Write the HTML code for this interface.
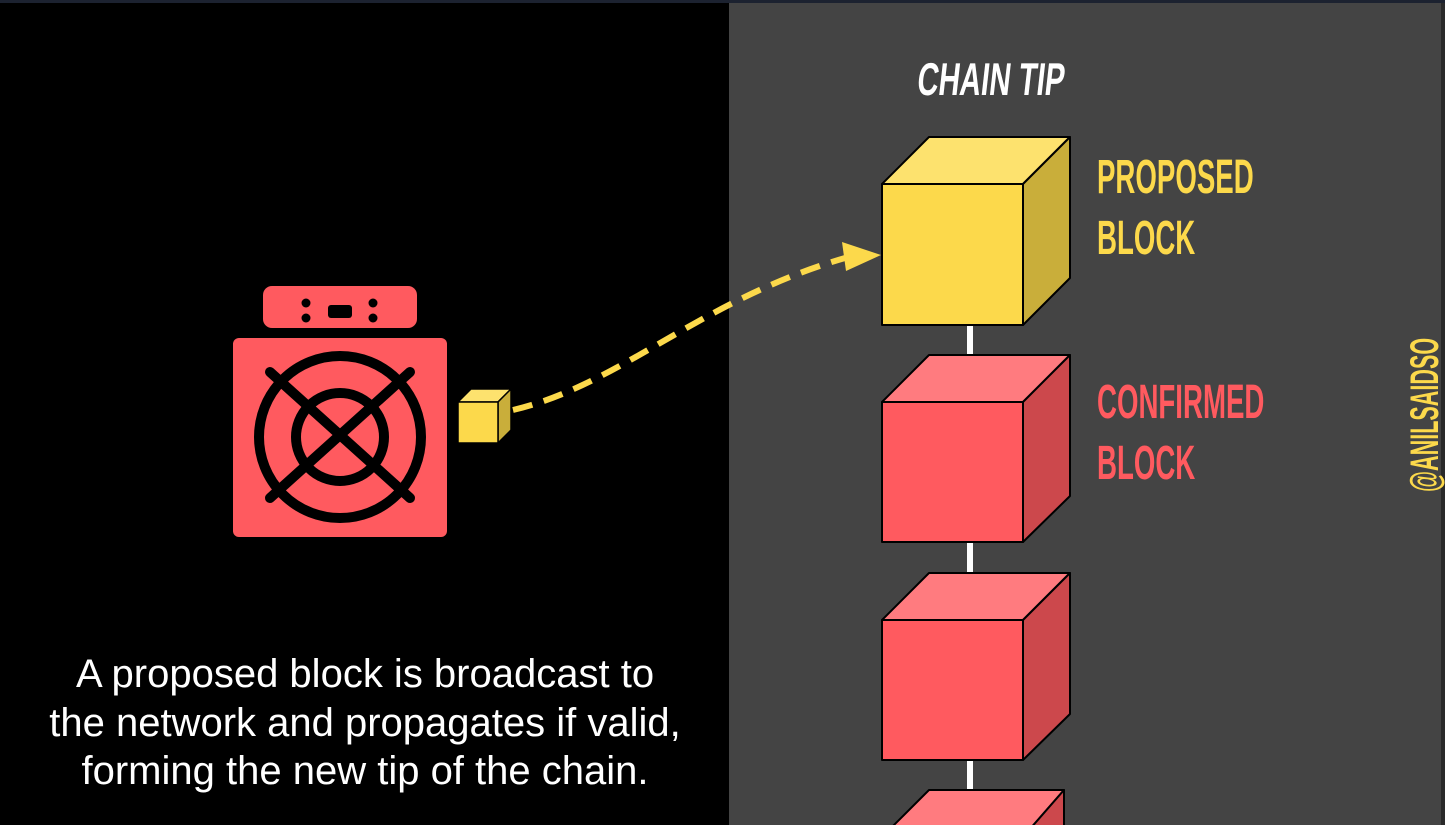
<!DOCTYPE html>
<html><head><style>
html,body{margin:0;padding:0;background:#000;width:1445px;height:825px;overflow:hidden}
svg{display:block}
.c{font-family:"Liberation Sans",sans-serif;font-weight:bold}
</style></head><body>
<svg width="1445" height="825" xmlns="http://www.w3.org/2000/svg">
<rect width="1445" height="825" fill="#000"/>
<rect x="0" y="0" width="1445" height="3" fill="#1c2230"/>
<rect x="729" y="3" width="712" height="822" fill="#444444"/>
<rect x="1441" y="3" width="4" height="822" fill="#2a2a2a"/>

<text class="c" transform="translate(916,95) scale(0.64,1) skewX(-10)" font-size="46" fill="#fff">CHAIN TIP</text>

<g stroke="#fff" stroke-width="6">
<line x1="970" y1="325" x2="970" y2="356"/>
<line x1="970" y1="542" x2="970" y2="574"/>
<line x1="970" y1="760" x2="970" y2="792"/>
</g>

<g stroke="#000" stroke-width="2" stroke-linejoin="round">
<polygon points="882,184 929,137 1070,137 1023,184" fill="#FDE26E"/>
<polygon points="1023,184 1070,137 1070,278 1023,325" fill="#C9AE3A"/>
<rect x="882" y="184" width="141" height="141" fill="#FCD94B"/>
</g>
<g stroke="#000" stroke-width="2" stroke-linejoin="round">
<polygon points="882,402 929,355 1070,355 1023,402" fill="#FF7B7F"/>
<polygon points="1023,402 1070,355 1070,496 1023,542" fill="#CC484C"/>
<rect x="882" y="402" width="141" height="140" fill="#FF5A5F"/>
</g>
<g stroke="#000" stroke-width="2" stroke-linejoin="round">
<polygon points="882,620 929,573 1070,573 1023,620" fill="#FF7B7F"/>
<polygon points="1023,620 1070,573 1070,714 1023,760" fill="#CC484C"/>
<rect x="882" y="620" width="141" height="140" fill="#FF5A5F"/>
</g>
<g stroke="#000" stroke-width="2" stroke-linejoin="round">
<polygon points="882,837 929,790 1064,790 1023,837" fill="#FF7B7F"/>
<polygon points="1023,837 1064,790 1064,830 1023,837" fill="#CC484C"/>
</g>

<text class="c" transform="translate(1097,193) scale(0.576,1)" font-size="48" fill="#FCD94B">PROPOSED</text>
<text class="c" transform="translate(1097,254) scale(0.576,1)" font-size="48" fill="#FCD94B">BLOCK</text>
<text class="c" transform="translate(1097,418) scale(0.576,1)" font-size="48" fill="#FF5A5F">CONFIRMED</text>
<text class="c" transform="translate(1097,479) scale(0.576,1)" font-size="48" fill="#FF5A5F">BLOCK</text>

<text class="c" transform="translate(1438,492) rotate(-90) scale(0.54,1)" font-size="40" fill="#FCD94B">@ANILSAIDSO</text>

<rect x="263" y="286" width="154" height="42" rx="9" fill="#FF5A5F"/>
<g fill="#000">
<circle cx="306" cy="303" r="4.5"/><circle cx="306" cy="318" r="4.5"/>
<circle cx="373" cy="303" r="4.5"/><circle cx="373" cy="318" r="4.5"/>
<rect x="328" y="305" width="24" height="13" rx="3"/>
</g>
<rect x="233" y="338" width="214" height="199" rx="6" fill="#FF5A5F"/>
<g stroke="#000" stroke-width="10" fill="none" stroke-linecap="round">
<circle cx="340" cy="437" r="81"/>
<circle cx="340" cy="437" r="44"/>
<line x1="270" y1="372" x2="410" y2="498"/>
<line x1="410" y1="372" x2="270" y2="498"/>
</g>

<g stroke="#000" stroke-width="1.5" stroke-linejoin="round">
<polygon points="458,402 471,389 511,389 498,402" fill="#FDE26E"/>
<polygon points="498,402 511,389 511,430 498,443" fill="#C9AE3A"/>
<rect x="458" y="402" width="40" height="41" fill="#FCD94B"/>
</g>

<path d="M513,410 C620,385 700,300 845,258" fill="none" stroke="#FCD94B" stroke-width="6" stroke-dasharray="20,12"/>
<polygon points="842,242 881,255 846,271" fill="#FCD94B"/>

<g font-family="Liberation Sans, sans-serif" font-size="40" fill="#fff" text-anchor="middle">
<text x="365" y="687">A proposed block is broadcast to</text>
<text x="365" y="736">the network and propagates if valid,</text>
<text x="365" y="784">forming the new tip of the chain.</text>
</g>
</svg>
</body></html>
